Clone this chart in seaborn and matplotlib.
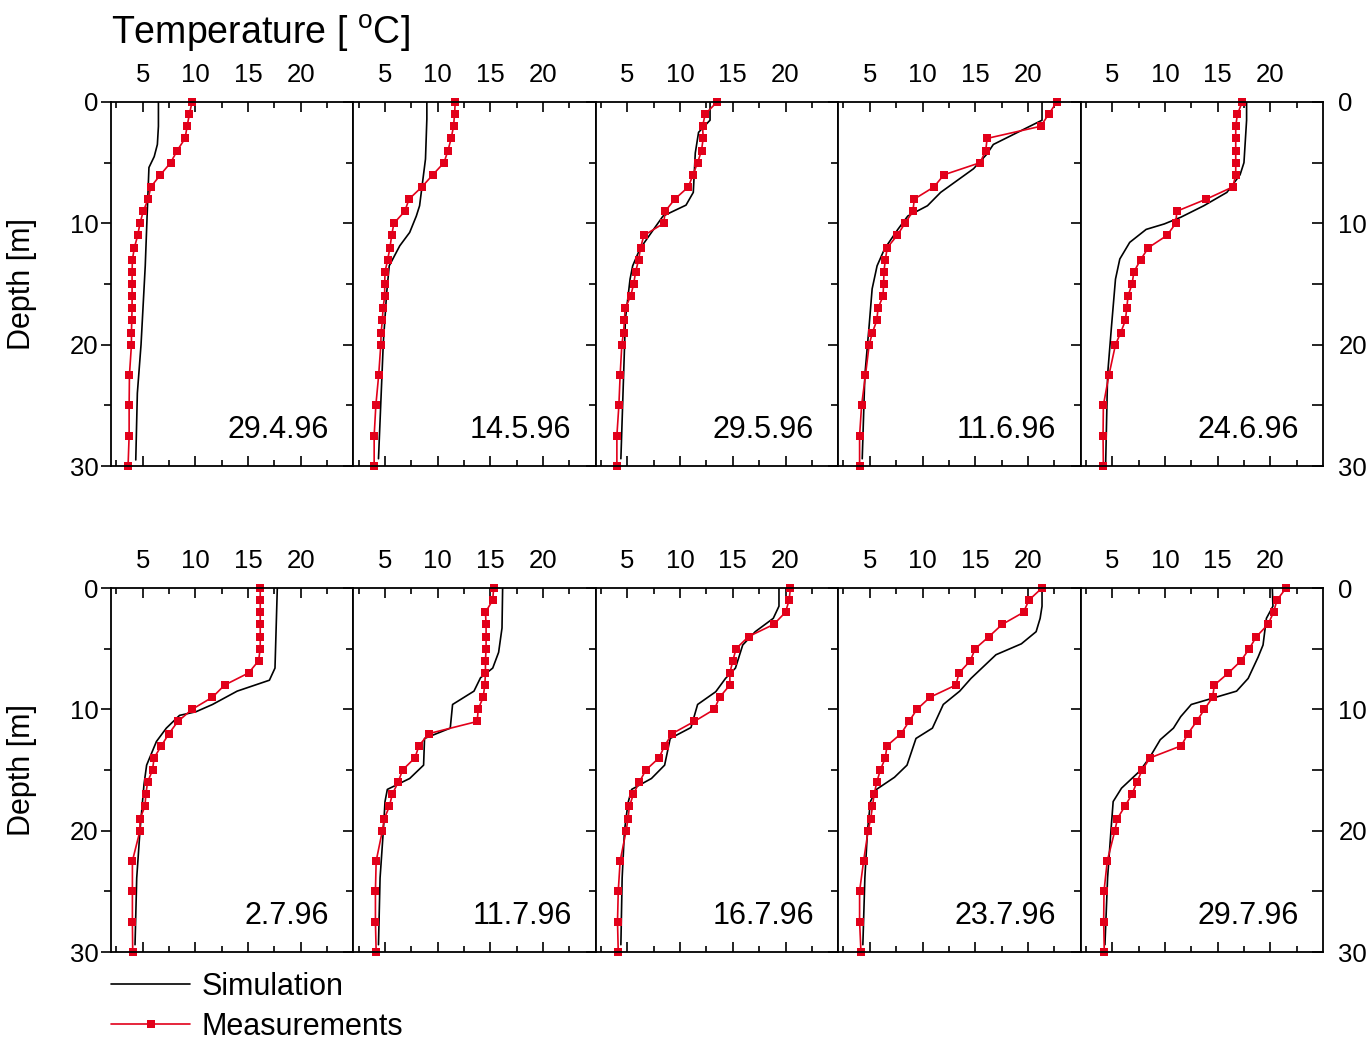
import numpy as np
import pandas as pd
import matplotlib
matplotlib.use("Agg")
import matplotlib.pyplot as plt
import seaborn as sns

# ---------------- data ----------------
dates = ["29.4.96", "14.5.96", "29.5.96", "11.6.96", "24.6.96",
         "2.7.96", "11.7.96", "16.7.96", "23.7.96", "29.7.96"]

meas_depth = [0, 1, 2, 3, 4, 5, 6, 7, 8, 9, 10, 11, 12, 13, 14, 15, 16, 17, 18, 19, 20,
              22.5, 25, 27.5, 30]

meas_2904 = [9.69, 9.44, 9.22, 9.03, 8.28, 7.66, 6.69, 5.78, 5.53, 5.06, 4.75, 4.53, 4.22,
             4.03, 4.0, 4.0, 4.0, 4.0, 3.97, 3.94, 3.94, 3.75, 3.72, 3.72, 3.62]
meas_1405 = [11.66, 11.6, 11.5, 11.28, 10.97, 10.6, 9.53, 8.5, 7.28, 6.88, 5.84, 5.63, 5.47,
             5.25, 5.0, 4.97, 4.97, 4.81, 4.75, 4.63, 4.6, 4.4, 4.13, 3.97, 3.97]
meas_2905 = [13.5, 12.38, 12.13, 12.19, 12.03, 11.66, 11.22, 10.78, 9.5, 8.59, 8.44, 6.56, 6.25,
             6.06, 5.78, 5.59, 5.31, 4.78, 4.72, 4.63, 4.47, 4.31, 4.19, 4.0, 4.0]
meas_1106 = [22.75, 21.97, 21.22, 16.13, 16.0, 15.47, 12.03, 11.09, 9.22, 9.09, 8.34, 7.59, 6.66,
             6.47, 6.34, 6.31, 6.25, 5.78, 5.66, 5.25, 4.94, 4.59, 4.22, 4.03, 4.03]
meas_2406 = [17.34, 16.88, 16.72, 16.72, 16.72, 16.72, 16.72, 16.44, 13.94, 11.13, 11.03, 10.19,
             8.44, 7.69, 7.06, 6.88, 6.5, 6.38, 6.25, 5.81, 5.31, 4.69, 4.16, 4.13, 4.16]
meas_0207 = [16.16, 16.16, 16.16, 16.16, 16.16, 16.16, 16.0, 15.06, 12.78, 11.63, 9.69, 8.34, 7.5,
             6.78, 6.09, 5.94, 5.47, 5.31, 5.22, 4.75, 4.75, 4.03, 4.03, 4.03, 4.06]
meas_1107 = [15.31, 15.22, 14.53, 14.59, 14.59, 14.59, 14.53, 14.53, 14.47, 14.31, 13.84, 13.75,
             9.16, 8.22, 7.84, 6.66, 6.25, 5.69, 5.41, 4.94, 4.75, 4.16, 4.09, 4.09, 4.16]
meas_1607 = [20.47, 20.34, 20.0, 18.88, 16.5, 15.31, 15.0, 14.72, 14.72, 13.75, 13.25, 11.34, 9.25,
             8.53, 8.0, 6.75, 6.13, 5.56, 5.19, 5.06, 4.88, 4.31, 4.13, 4.06, 4.13]
meas_2307 = [21.34, 20.09, 19.59, 17.56, 16.31, 15.0, 14.53, 13.47, 13.16, 10.72, 9.47, 8.72, 7.97,
             6.63, 6.47, 6.0, 5.66, 5.41, 5.25, 5.09, 4.84, 4.41, 4.03, 4.03, 4.16]
meas_2907 = [21.5, 20.63, 20.31, 19.78, 18.69, 18.0, 17.22, 16.03, 14.69, 14.53, 13.75, 13.0, 12.19,
             11.56, 8.59, 7.84, 7.34, 6.88, 6.19, 5.5, 5.25, 4.53, 4.22, 4.19, 4.25]

sim_depth_2904 = [0, 2, 3.5, 4.5, 5.4, 10, 13.5, 20, 24, 29.5]
sim_2904 = [6.5, 6.5, 6.4, 6.1, 5.6, 5.4, 5.25, 4.85, 4.5, 4.35]
sim_depth_1405 = [0, 1.4, 4.7, 8.55, 9.4, 10.75, 11.85, 13.5, 15.7, 19.8, 29.4]
sim_1405 = [8.97, 8.97, 8.84, 8.28, 7.97, 7.34, 6.4, 5.4, 5.16, 4.84, 4.38]
sim_depth_2905 = [0, 1.5, 2.5, 4.2, 7.45, 8.5, 9.4, 10.75, 12.1, 13.5, 14.6, 17.9, 29.4]
sim_2905 = [12.84, 12.84, 11.75, 11.44, 11.25, 10.56, 8.38, 7.28, 6.19, 5.5, 5.25, 4.81, 4.38]
sim_depth_1106 = [0, 1.5, 3.5, 4.3, 5.5, 7.45, 8.55, 9.4, 10.5, 12.1, 13.5, 15.4, 18.4, 22.5, 29.4]
sim_1106 = [21.34, 21.34, 16.72, 16.1, 14.84, 11.72, 10.47, 8.6, 7.66, 6.4, 5.69, 5.22, 4.94, 4.53, 4.28]
sim_depth_2406 = [0, 1.5, 5, 6, 7.45, 8.55, 9.5, 10.05, 10.5, 11.57, 12.94, 14.6, 18.4, 22.5, 29.7]
sim_2406 = [17.75, 17.75, 17.5, 17.13, 15.88, 13.69, 11.5, 9.94, 8.22, 6.66, 5.72, 5.31, 4.94, 4.56, 4.38]
sim_depth_0207 = [0, 6.6, 7.6, 8.5, 9.6, 10.2, 10.5, 11.55, 12.65, 14.6, 16.2, 20, 23.9, 29.4]
sim_0207 = [17.78, 17.56, 17.03, 13.97, 11.63, 10.06, 8.5, 7.25, 6.31, 5.38, 5.13, 4.75, 4.44, 4.28]
sim_depth_1107 = [0, 3.3, 5.3, 6.6, 7.4, 8.5, 9.6, 11.55, 12.4, 14.6, 15.7, 16.6, 17.6, 20, 23.9, 29.4]
sim_1107 = [16.16, 16.1, 15.78, 15.22, 14.06, 13.44, 11.41, 11.19, 8.75, 8.66, 7.34, 5.22, 5.0, 4.84, 4.53, 4.38]
sim_depth_1607 = [0, 1.5, 2.5, 3.6, 4.7, 6.6, 7.45, 8.55, 9.6, 11.5, 12.4, 14.6, 15.7, 16.6, 17.7, 20, 23.9, 29.4]
sim_1607 = [19.38, 19.38, 18.84, 17.13, 15.94, 15.25, 14.31, 13.38, 11.66, 11.03, 9.06, 8.53, 7.28, 5.4,
            5.06, 4.72, 4.5, 4.38]
sim_depth_2307 = [0, 1.5, 2.5, 3.6, 4.6, 5.5, 7.45, 8.5, 9.6, 11.55, 12.4, 14.6, 15.6, 16.6, 17.6, 20, 23.9, 29.4]
sim_2307 = [21.34, 21.34, 21.16, 20.78, 19.38, 16.97, 14.6, 13.53, 11.97, 10.94, 9.38, 8.53, 7.34, 5.63,
            5.06, 4.78, 4.53, 4.34]
sim_depth_2907 = [0, 1.5, 2.5, 4.7, 5.7, 7.45, 8.5, 9.6, 10.6, 11.55, 12.5, 14.0, 15.1, 16.5, 17.6, 20, 23.9, 29.4]
sim_2907 = [20.19, 20.25, 19.63, 19.31, 18.84, 17.9, 16.8, 12.5, 11.5, 10.81, 9.56, 8.53, 7.6, 5.88,
            5.09, 4.88, 4.56, 4.31]

meas_all = [meas_2904, meas_1405, meas_2905, meas_1106, meas_2406,
            meas_0207, meas_1107, meas_1607, meas_2307, meas_2907]
sim_all = [(sim_depth_2904, sim_2904), (sim_depth_1405, sim_1405), (sim_depth_2905, sim_2905),
           (sim_depth_1106, sim_1106), (sim_depth_2406, sim_2406), (sim_depth_0207, sim_0207),
           (sim_depth_1107, sim_1107), (sim_depth_1607, sim_1607), (sim_depth_2307, sim_2307),
           (sim_depth_2907, sim_2907)]

x_ticks = [5, 10, 15, 20]
y_ticks = [0, 10, 20, 30]

# ---------------- style ----------------
sns.set_style("white")
plt.rcParams["font.family"] = ["Liberation Sans", "DejaVu Sans"]
plt.rcParams["mathtext.fontset"] = "custom"
plt.rcParams["mathtext.rm"] = "Liberation Sans"
for key in ["text.color", "axes.labelcolor", "xtick.color", "ytick.color", "axes.edgecolor"]:
    plt.rcParams[key] = "black"

RED = "#e2001a"
W, H = 1372, 1043
fig = plt.figure(figsize=(W / 100, H / 100), dpi=100)

left_px, panel_w = 111, 242.4
rows_px = [(102, 466), (588, 952)]
TICK_FS = 18.5

axes = []
for i in range(10):
    r, c = divmod(i, 5)
    top, bot = rows_px[r]
    ax = fig.add_axes([(left_px + c * panel_w) / W, 1 - bot / H, panel_w / W, (bot - top) / H])
    axes.append(ax)

    sd, st = sim_all[i]
    df_sim = pd.DataFrame({"depth": sd, "temp": st})
    df_meas = pd.DataFrame({"depth": meas_depth, "temp": meas_all[i]})

    sns.lineplot(data=df_sim, x="temp", y="depth", sort=False, estimator=None, ax=ax,
                 color="black", linewidth=1.2, label="Simulation", legend=False)
    sns.lineplot(data=df_meas, x="temp", y="depth", sort=False, estimator=None, ax=ax,
                 color=RED, linewidth=1.2, marker="s", markersize=5.5, markeredgewidth=0,
                 label="Measurements", legend=False, clip_on=False)

    ax.set_xlim(2, 25)
    ax.set_ylim(30, 0)
    ax.set_xlabel("")
    ax.set_ylabel("")
    ax.set_xticks(x_ticks)
    ax.set_xticks([2.5, 7.5, 12.5, 17.5, 22.5], minor=True)
    ax.set_yticks(y_ticks)
    ax.set_yticks([5, 15, 25], minor=True)
    for s in ax.spines.values():
        s.set_linewidth(1.3)
        s.set_color("black")
    ax.xaxis.tick_top()
    ax.tick_params(axis="x", which="both", direction="in", top=True, bottom=True,
                   labeltop=True, labelbottom=False, labelsize=TICK_FS, pad=11, width=1.2)
    ax.tick_params(axis="x", which="major", length=7)
    ax.tick_params(axis="x", which="minor", length=4)
    ax.tick_params(axis="y", which="both", direction="out", left=True, right=False,
                   labelleft=(c == 0), labelright=False, labelsize=TICK_FS, pad=2, width=1.2)
    ax.tick_params(axis="y", which="major", length=7)
    ax.tick_params(axis="y", which="minor", length=5)

    ax.text(22.7, 27.7, dates[i], ha="right", va="baseline", fontsize=22)

    if c == 4:
        tw = ax.twinx()
        tw.set_ylim(30, 0)
        tw.set_yticks(y_ticks)
        tw.set_yticks([5, 15, 25], minor=True)
        tw.tick_params(axis="y", which="both", direction="in", left=False, right=True,
                       labelright=True, labelsize=TICK_FS, pad=11, width=1.2)
        tw.tick_params(axis="y", which="major", length=8)
        tw.tick_params(axis="y", which="minor", length=8)
        for s in tw.spines.values():
            s.set_visible(False)

for r, (top, bot) in enumerate(rows_px):
    fig.text(22 / W, 1 - (top + bot) / 2 / H, "Depth [m]", rotation=90,
             ha="center", va="center", fontsize=22)

fig.text(111 / W, 1 - 44 / H, r"Temperature [ $^{\mathrm{o}}$C]", ha="left",
         va="baseline", fontsize=27)

handles, labels = axes[0].get_legend_handles_labels()
leg = fig.legend(handles, labels, loc="upper left", bbox_to_anchor=(111 / W, 1 - 972 / H),
                 frameon=False, fontsize=22, handlelength=2.6, handletextpad=0.35,
                 borderpad=0, borderaxespad=0, labelspacing=0.32, numpoints=1)

fig.savefig("out.png", dpi=100)
